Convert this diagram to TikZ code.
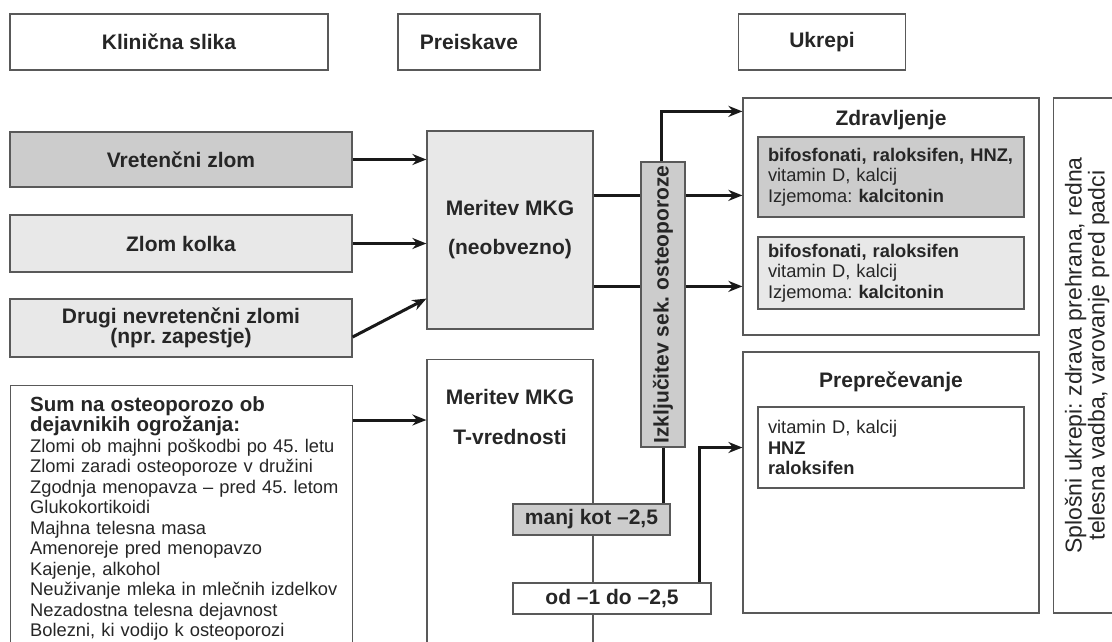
\documentclass[tikz,border=0pt]{standalone}
\usepackage{fontspec}
\setmainfont{Liberation Sans}
\usetikzlibrary{arrows.meta,positioning}
\frenchspacing
\newcommand{\bfont}{\fontsize{20.5}{20.5}\selectfont\bfseries}
\tikzset{
  obox/.style   ={draw=black!65, line width=1.2pt, inner sep=0pt, align=center,
                  text=black!85, font=\fontsize{21}{23}\selectfont\bfseries},
  ohead/.style  ={obox, fill=white},
  odark/.style  ={obox, fill=black!20},
  olight/.style ={obox, fill=black!9},
  olist/.style  ={obox, align=left, text width=246pt, inner xsep=10pt,
                  font=\fontsize{18.3}{20.5}\selectfont},
  otxt/.style   ={inner sep=0pt, text=black!85, font=\fontsize{21}{23}\selectfont\bfseries},
  oarr/.style   ={-{Stealth[length=14pt,width=11pt]}, line width=3pt, black!90},
  oln/.style    ={line width=3pt, black!90},
}
\begin{document}
\begin{tikzpicture}[x=1pt, y=-1pt]
\useasboundingbox (0,0) rectangle (1112,641);
\clip (0,0) rectangle (1112,641);
\fill[white] (0,0) rectangle (1112,641);

% column heads
\node[ohead, minimum width=318pt, minimum height=56pt] (klin) at (169,42) {Klinična slika};
\node[ohead, minimum width=142pt, minimum height=56pt] (preis) at (469,42) {Preiskave};
\node[ohead, minimum width=167pt, minimum height=56pt] (ukr) at (822,42) {Ukrepi};

% clinical picture
\node[odark, minimum width=342pt, minimum height=55pt] (vret) at (181,159.5) {Vretenčni zlom};
\node[olight, minimum width=342pt, minimum height=57pt] (kolk) at (181,243.5) {Zlom kolka};
\node[olight, minimum width=342pt, minimum height=58pt] (drugi) at (181,328)
  {Drugi nevretenčni zlomi\\[-3pt](npr. zapestje)};
\node[ohead, anchor=north west, minimum width=342pt, minimum height=290pt] (sum) at (10,385) {};
\node[anchor=north west, inner sep=0pt, align=left, text width=320pt, text=black!85,
      font=\fontsize{18.3}{20.5}\selectfont] (sumtx) at (30,396)
  {{\bfont Sum na osteoporozo ob}\\{\bfont dejavnikih ogrožanja:}\\
   Zlomi ob majhni poškodbi po 45. letu\\
   Zlomi zaradi osteoporoze v družini\\
   Zgodnja menopavza – pred 45. letom\\
   Glukokortikoidi\\
   Majhna telesna masa\\
   Amenoreje pred menopavzo\\
   Kajenje, alkohol\\
   Neuživanje mleka in mlečnih izdelkov\\
   Nezadostna telesna dejavnost\\
   Bolezni, ki vodijo k osteoporozi};

% examinations
\node[olight, minimum width=166pt, minimum height=198pt] (mer) at (510,230)
  {Meritev MKG\\[16pt](neobvezno)};
\node[ohead, anchor=north, minimum width=166pt, minimum height=320pt] (tval) at (510,359) {};
\node[otxt, align=center] (tvtx) at (510,417) {Meritev MKG\\[17pt]T-vrednosti};
\node[odark, minimum width=44pt, minimum height=285pt] (izk) at (663,304.5)
  {\rotatebox{90}{Izključitev sek. osteoporoze}};
\node[odark, minimum width=157pt, minimum height=31pt] (manj) at (591.5,519.5) {manj kot –2,5};
\node[ohead, minimum width=198pt, minimum height=31pt] (od) at (612,598.5) {od –1 do –2,5};

% measures
\node[ohead, minimum width=296pt, minimum height=237pt] (zdr) at (891,216.5) {};
\node[otxt] (zdrt) at (891,120) {Zdravljenje};
\node[olist, fill=black!20, minimum height=80pt] (b1) at (891,177)
  {\textbf{bifosfonati, raloksifen, HNZ,}\\vitamin D, kalcij\\Izjemoma: \textbf{kalcitonin}};
\node[olist, fill=black!9, minimum height=72pt] (b2) at (891,273)
  {\textbf{bifosfonati, raloksifen}\\vitamin D, kalcij\\Izjemoma: \textbf{kalcitonin}};
\node[ohead, minimum width=296pt, minimum height=261pt] (prp) at (891,482.5) {};
\node[otxt] (prpt) at (891,382) {Preprečevanje};
\node[olist, fill=white, minimum height=81pt] (b3) at (891,447.5)
  {vitamin D, kalcij\\\textbf{HNZ}\\\textbf{raloksifen}};
\node[ohead, minimum width=69pt, minimum height=515pt, font=\fontsize{23}{21}\selectfont] (spl) at (1088,355.5)
  {\rotatebox{90}{\begin{tabular}{@{}c@{}}Splošni ukrepi: zdrava prehrana, redna\\telesna vadba, varovanje pred padci\end{tabular}}};

% connectors
\draw[oarr] (vret.east) -- (vret.east -| mer.west);
\draw[oarr] (kolk.east) -- (kolk.east -| mer.west);
\draw[oarr] ([yshift=-9pt]drugi.east) -- ([yshift=31pt]mer.south west);
\draw[oarr] ([yshift=-35pt]sum.north east) -- ([yshift=-61pt]tval.north west);

\coordinate (m1) at ([yshift=-65pt]mer.north east);
\coordinate (m2) at ([yshift=-156pt]mer.north east);
\draw[oln] (m1) -- (m1 -| izk.west);
\draw[oln] (m2) -- (m2 -| izk.west);
\draw[oarr] (m1 -| izk.east) -- (m1 -| zdr.west);
\draw[oarr] (m2 -| izk.east) -- (m2 -| zdr.west);
\draw[oarr] ([xshift=-2pt]izk.north) |- ([yshift=-14pt]zdr.north west);
\draw[oln] (izk.south) -- (izk.south |- manj.north);
\draw[oarr] ([xshift=-12pt]od.north east) |- (prp.west |- b3.west);

\end{tikzpicture}
\end{document}
